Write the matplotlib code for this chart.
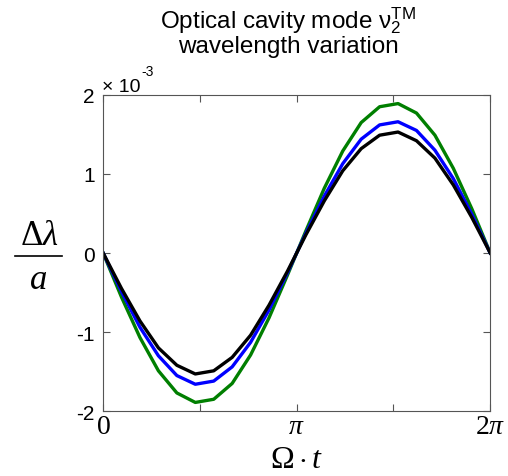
import numpy as np
from matplotlib import pyplot as plt
from matplotlib.lines import Line2D

plt.rcParams['mathtext.fontset'] = 'custom'
plt.rcParams['mathtext.rm'] = 'Liberation Serif'
plt.rcParams['mathtext.it'] = 'Liberation Serif:italic'
plt.rcParams['mathtext.bf'] = 'Liberation Serif:bold'
plt.rcParams['mathtext.sf'] = 'Liberation Sans'
plt.rcParams['font.family'] = ['Liberation Sans', 'DejaVu Sans']

# 22 samples over one period (0 .. 2pi), values in units of 1e-3
phase = np.linspace(0, 2 * np.pi, 22)
green = [0, -0.56, -1.07, -1.49, -1.77, -1.89, -1.85, -1.65, -1.29, -0.82, -0.28,
         0.28, 0.82, 1.29, 1.65, 1.85, 1.89, 1.77, 1.49, 1.07, 0.56, 0]
blue = [0, -0.49, -0.94, -1.30, -1.55, -1.66, -1.62, -1.44, -1.13, -0.72, -0.25,
        0.25, 0.72, 1.13, 1.44, 1.62, 1.66, 1.55, 1.30, 0.94, 0.49, 0]
black = [0, -0.45, -0.86, -1.20, -1.42, -1.53, -1.49, -1.32, -1.04, -0.66, -0.23,
         0.23, 0.66, 1.04, 1.32, 1.49, 1.53, 1.42, 1.20, 0.86, 0.45, 0]
yticks = [-2, -1, 0, 1, 2]

fig = plt.figure(figsize=(5.08, 4.77), dpi=100)
ax = fig.add_axes([0.203, 0.136, 0.762, 0.663])

ax.plot(phase, green, color='#007f00', lw=2.4)
ax.plot(phase, blue, color='#0000ff', lw=2.4)
ax.plot(phase, black, color='black', lw=2.4)

ax.set_xlim(0, 2 * np.pi)
ax.set_ylim(-2, 2)
ax.set_xticks([0, np.pi / 2, np.pi, 3 * np.pi / 2, 2 * np.pi])
ax.set_xticklabels(['$0$', '', r'$\pi$', '', r'$2\pi$'], fontsize=20)
ax.set_yticks(yticks)
ax.set_yticklabels([str(v) for v in yticks], fontsize=15)
ax.tick_params(direction='in', top=True, right=True, length=5, color='#555555')
ax.tick_params(axis='x', pad=1)
ax.tick_params(axis='y', pad=6)
for s in ax.spines.values():
    s.set_color('#555555')
    s.set_linewidth(0.8)

# exponent label in MATLAB style
fig.text(102 / 508, 1 - 92 / 477, '\u00d7 10', fontsize=14, ha='left', va='baseline')
fig.text(141 / 508, 1 - 76 / 477, '-3', fontsize=10, ha='left', va='baseline')

ax.set_xlabel(r'$\Omega\cdot t$', fontsize=23, labelpad=4)

# y label as a stacked fraction
fig.text(39 / 508, 1 - 245 / 477, r'$\Delta\lambda$', fontsize=25, ha='center', va='baseline')
fig.text(38 / 508, 1 - 289 / 477, r'$a$', fontsize=25, ha='center', va='baseline')
fig.add_artist(Line2D([15 / 508, 62 / 508], [1 - 257 / 477, 1 - 257 / 477],
                      color='black', lw=1.2, transform=fig.transFigure))

fig.text(288 / 508, 1 - 6 / 477,
         'Optical cavity mode $\\mathsf{\\nu}_{\\mathsf{2}}^{\\mathsf{TM}}$\nwavelength variation',
         fontsize=17.5, ha='center', va='top', linespacing=0.95, multialignment='center')

fig.savefig('out.png', dpi=100)
